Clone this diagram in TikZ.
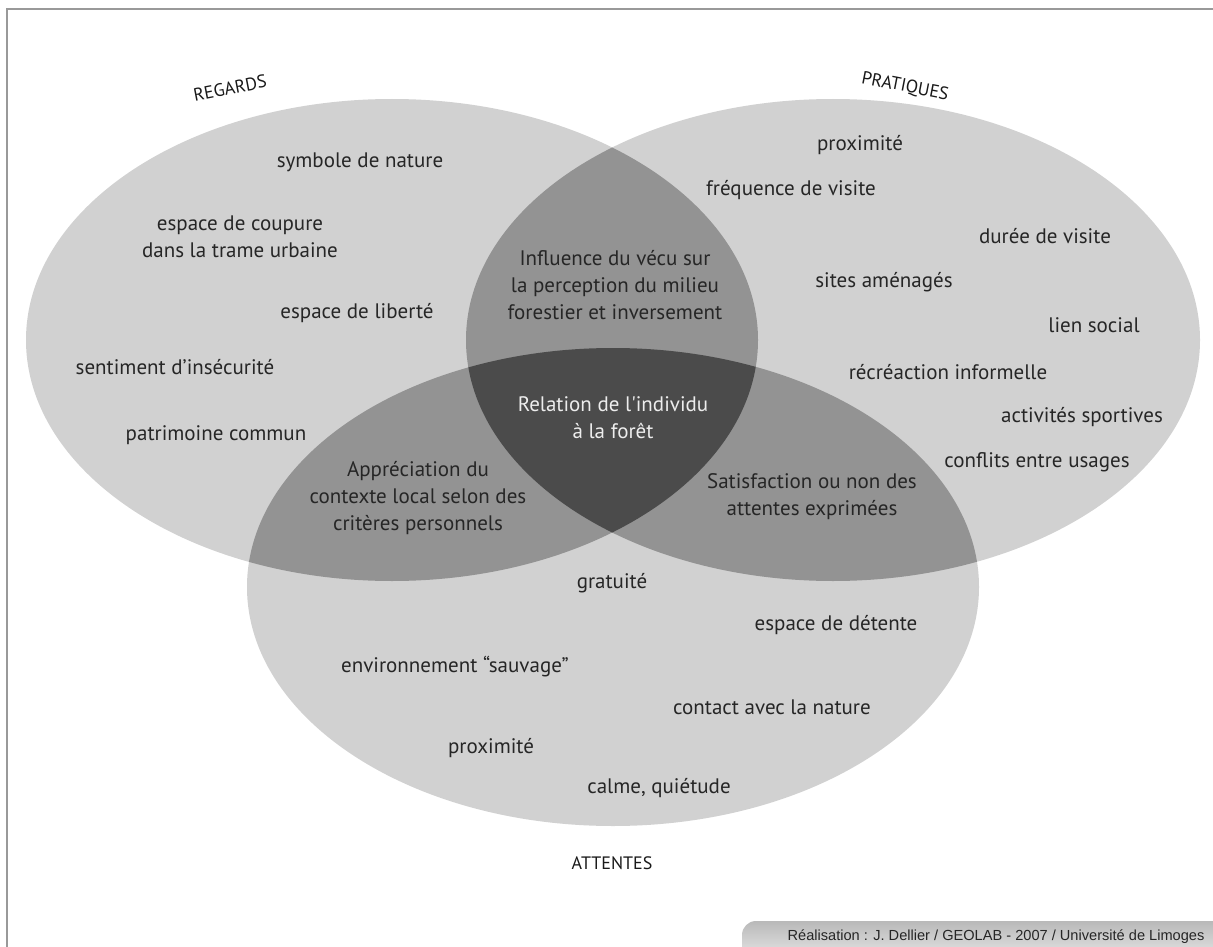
\documentclass[tikz,border=0pt]{standalone}
\usepackage{fontspec}
\setmainfont{PT Sans}[Ligatures=TeXOff]
\newfontfamily\credfont{Liberation Sans}
\usetikzlibrary{shadings}
\definecolor{lg}{HTML}{D1D1D1}
\definecolor{mg}{HTML}{939393}
\definecolor{dg}{HTML}{4B4B4B}
\definecolor{txt}{HTML}{262626}
\definecolor{framec}{HTML}{999999}
\tikzset{
  lab/.style={font=\fontsize{21}{27}\selectfont, text=txt, align=center, inner sep=0pt},
  title/.style={font=\fontsize{18}{22}\selectfont, text=black!90, inner sep=0pt},
  credit/.style={font=\credfont\fontsize{14.6}{18}\selectfont, text=txt, inner sep=0pt},
}
\begin{document}
\begin{tikzpicture}[x=1pt,y=-1pt]
\useasboundingbox (0,0) rectangle (1213,947);
\fill[white] (0,0) rectangle (1213,947);
% ellipses
\def\ellL{(392,340) ellipse [x radius=366pt, y radius=241pt]}
\def\ellR{(833,340) ellipse [x radius=367pt, y radius=241pt]}
\def\ellB{(613,587) ellipse [x radius=366pt, y radius=239pt]}
\fill[lg] \ellL; \fill[lg] \ellR; \fill[lg] \ellB;
\begin{scope}\clip \ellL; \fill[mg] \ellR; \fill[mg] \ellB; \end{scope}
\begin{scope}\clip \ellR; \fill[mg] \ellB; \end{scope}
\begin{scope}\clip \ellL; \clip \ellR; \fill[dg] \ellB; \end{scope}
% frame
\draw[framec, line width=2pt] (7,960) -- (7,9) -- (1220,9);
% titles
\node[title, rotate=11] (regards) at (230,88) {REGARDS};
\node[title, rotate=-11] (pratiques) at (905,87) {PRATIQUES};
\node[title] (attentes) at (612,863) {ATTENTES};
% REGARDS
\node[lab] (r1) at (360,162) {symbole de nature};
\node[lab] (r2) at (240,237) {espace de coupure\\dans la trame urbaine};
\node[lab] (r3) at (357,313) {espace de liberté};
\node[lab] (r4) at (175,367) {sentiment d’insécurité};
\node[lab] (r5) at (216,435) {patrimoine commun};
% PRATIQUES
\node[lab] (p1) at (860,145) {proximité};
\node[lab] (p2) at (791,190) {fréquence de visite};
\node[lab] (p3) at (1045,236) {durée de visite};
\node[lab] (p4) at (884,282) {sites aménagés};
\node[lab] (p5) at (1094,325) {lien social};
\node[lab] (p6) at (948,372) {récréaction informelle};
\node[lab] (p7) at (1082,417) {activités sportives};
\node[lab] (p8) at (1037,462) {conflits entre usages};
% ATTENTES
\node[lab] (a1) at (612,583) {gratuité};
\node[lab] (a2) at (836,625) {espace de détente};
\node[lab] (a3) at (455,667) {environnement “sauvage”};
\node[lab] (a4) at (772,707) {contact avec la nature};
\node[lab] (a5) at (491,748) {proximité};
\node[lab] (a6) at (659,788) {calme, quiétude};
% intersections
\node[lab] (rp) at (615,285) {Influence du vécu sur\\la perception du milieu\\forestier et inversement};
\node[lab] (ra) at (418,498) {Appréciation du\\contexte local selon des\\critères personnels};
\node[lab] (pa) at (812,497) {Satisfaction ou non des\\attentes exprimées};
\node[lab, text=white!93!black] (rpa) at (613,418) {Relation de l'individu\\à la forêt};
% credit
\shade[top color=gray!55, bottom color=gray!4, rounded corners=14pt] (742,921) rectangle (1235,975);
\node[credit] (cred) at (996,937) {Réalisation : J. Dellier / GEOLAB - 2007 / Université de Limoges};
\end{tikzpicture}
\end{document}
